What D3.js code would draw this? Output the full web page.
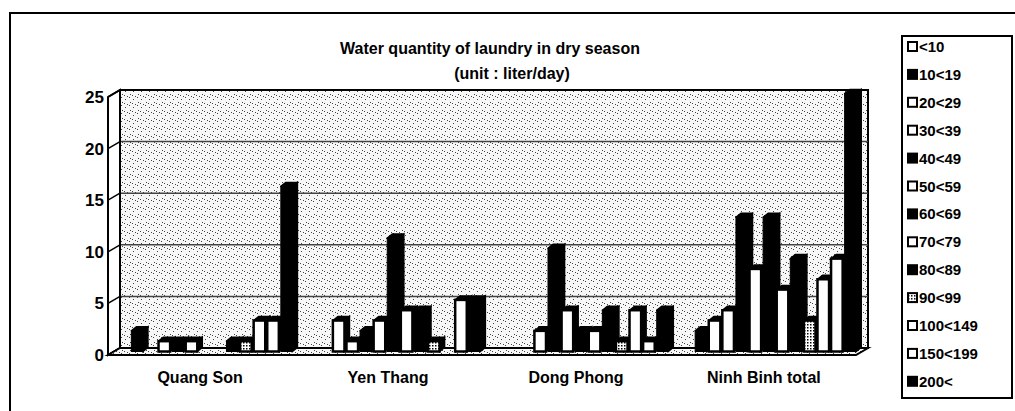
<!DOCTYPE html>
<html lang="en">
<head>
<meta charset="UTF-8">
<title>Water quantity of laundry in dry season</title>
<script src="https://cdnjs.cloudflare.com/ajax/libs/d3/7.8.5/d3.min.js"></script>
<style>
    body { margin: 0; background: #fff; }
    svg text { font-family: "Liberation Sans", Arial, sans-serif; font-weight: bold; fill: #000; }
</style>
</head>
<body>
<svg id="chart" width="1015" height="411"></svg>
<script>
// categories and series
const categories = ["Quang Son", "Yen Thang", "Dong Phong", "Ninh Binh total"];
const seriesNames = ["<10", "10<19", "20<29", "30<39", "40<49", "50<59", "60<69",
                     "70<79", "80<89", "90<99", "100<149", "150<199", "200<"];
const seriesFill = ["white", "black", "white", "white", "black", "white", "black",
                    "white", "black", "grey", "white", "white", "black"];

// values per category (liter/day classes)
const quangSon  = [0, 2, 0, 1, 1, 1, 0, 0, 1, 1, 3, 3, 16];
const yenThang  = [0, 0, 3, 1, 2, 3, 11, 4, 4, 1, 0, 5, 5];
const dongPhong = [0, 0, 0, 2, 10, 4, 2, 2, 4, 1, 4, 1, 4];
const ninhBinh  = [0, 2, 3, 4, 13, 8, 13, 6, 9, 3, 7, 9, 25];
const values = [quangSon, yenThang, dongPhong, ninhBinh];

const yTicks = [0, 5, 10, 15, 20, 25];

const svg = d3.select("#chart");

// speckled texture for wall / floor
const defs = svg.append("defs");
const speck = defs.append("pattern").attr("id", "speck")
    .attr("width", 8).attr("height", 8).attr("patternUnits", "userSpaceOnUse");
speck.append("rect").attr("width", 8).attr("height", 8).attr("fill", "#f7f7f7");
[[1, 1], [5, 3], [2, 6], [7, 0], [4, 7]].forEach(p =>
    speck.append("rect").attr("x", p[0]).attr("y", p[1]).attr("width", 1).attr("height", 1).attr("fill", "#444"));
const hatch = defs.append("pattern").attr("id", "hatch")
    .attr("width", 3).attr("height", 3).attr("patternUnits", "userSpaceOnUse");
hatch.append("rect").attr("width", 3).attr("height", 3).attr("fill", "#fff");
hatch.append("rect").attr("width", 1.5).attr("height", 1.5).attr("fill", "#000");

// outer frame
svg.append("path").attr("d", "M10,411 V13 H1015").attr("fill", "none").attr("stroke", "#000").attr("stroke-width", 2);

// 3D geometry: front axis plane and back wall offset
const wallDx = 12, wallDy = -7;
const y = d3.scaleLinear().domain([0, 25]).range([355, 97]);
const x0 = d3.scaleBand().domain(categories).range([108, 856]).paddingInner(0.06).paddingOuter(0.02);
const x1 = d3.scaleBand().domain(seriesNames).range([0, x0.bandwidth()]);

const wallL = x0.range()[0] + wallDx, wallR = x0.range()[1] + wallDx;

// back wall
svg.append("rect").attr("x", wallL).attr("y", y(25) + wallDy)
    .attr("width", wallR - wallL).attr("height", y(0) - y(25))
    .attr("fill", "url(#speck)").attr("stroke", "#000").attr("stroke-width", 2);

// gridlines on back wall
svg.selectAll(".grid").data(yTicks.slice(1, -1)).join("line")
    .attr("x1", wallL).attr("x2", wallR)
    .attr("y1", d => y(d) + wallDy).attr("y2", d => y(d) + wallDy)
    .attr("stroke", "#444").attr("stroke-width", 1.5);

// left wall
const fx = x0.range()[0];
svg.append("path")
    .attr("d", `M${fx},${y(0)} L${fx},${y(25)} L${wallL},${y(25) + wallDy} L${wallL},${y(0) + wallDy} Z`)
    .attr("fill", "#fff").attr("stroke", "#000").attr("stroke-width", 2);
svg.selectAll(".tick3d").data(yTicks).join("line")
    .attr("x1", fx).attr("y1", d => y(d)).attr("x2", wallL).attr("y2", d => y(d) + wallDy)
    .attr("stroke", "#000").attr("stroke-width", 1.5);

// floor
svg.append("path")
    .attr("d", `M${fx},${y(0)} L${wallL},${y(0) + wallDy} L${wallR},${y(0) + wallDy} L${x0.range()[1]},${y(0)} Z`)
    .attr("fill", "url(#speck)").attr("stroke", "#000").attr("stroke-width", 2);

// y tick labels
svg.selectAll(".ylab").data(yTicks).join("text")
    .attr("x", fx - 4).attr("y", d => y(d) + 6)
    .attr("text-anchor", "end").attr("font-size", 17)
    .text(d => d);

// bars (3D columns)
const barDx = 6, barDy = -3.5, depthX = 5, depthY = -4;
const bw = x1.bandwidth() - 2;
const bars = [];
values.forEach((vals, ci) => vals.forEach((v, si) => bars.push({ c: categories[ci], s: seriesNames[si], si, v })));

const barG = svg.append("g");
bars.forEach(d => {
    if (d.v <= 0) return;
    const bx = x0(d.c) + x1(d.s) + barDx;
    const top = y(d.v) + barDy, bot = y(0) + barDy;
    const kind = seriesFill[d.si];
    const frontFill = kind === "black" ? "#000" : kind === "grey" ? "url(#hatch)" : "#fff";
    const g = barG.append("g");
    // side face
    g.append("path")
        .attr("d", `M${bx + bw},${bot} L${bx + bw},${top} L${bx + bw + depthX},${top + depthY} L${bx + bw + depthX},${bot + depthY} Z`)
        .attr("fill", "#000").attr("stroke", "#000").attr("stroke-width", 1.5);
    // top face
    g.append("path")
        .attr("d", `M${bx},${top} L${bx + depthX},${top + depthY} L${bx + bw + depthX},${top + depthY} L${bx + bw},${top} Z`)
        .attr("fill", "#000").attr("stroke", "#000").attr("stroke-width", 1.5).attr("stroke-linejoin", "round");
    // front face
    g.append("rect").attr("x", bx).attr("y", top).attr("width", bw).attr("height", bot - top)
        .attr("fill", frontFill).attr("stroke", "#000").attr("stroke-width", kind === "black" ? 1 : 2.5);
});

// category labels
svg.selectAll(".clab").data(categories).join("text")
    .attr("x", d => x0(d) + x0.bandwidth() / 2)
    .attr("y", 383).attr("text-anchor", "middle").attr("font-size", 16)
    .text(d => d);

// title
svg.append("text").attr("x", 490).attr("y", 54).attr("text-anchor", "middle").attr("font-size", 16)
    .text("Water quantity of laundry in dry season");
svg.append("text").attr("x", 512).attr("y", 79).attr("text-anchor", "middle").attr("font-size", 16)
    .text("(unit : liter/day)");

// legend
const legX = 902, legY = 36;
svg.append("rect").attr("x", legX).attr("y", legY).attr("width", 110).attr("height", 362)
    .attr("fill", "#fff").attr("stroke", "#000").attr("stroke-width", 2);
const leg = svg.selectAll(".leg").data(seriesNames).join("g")
    .attr("transform", (d, i) => `translate(${legX + 6},${legY + 11 + i * 27.9})`);
leg.append("rect").attr("x", 0).attr("y", -5).attr("width", 9).attr("height", 9)
    .attr("fill", (d, i) => seriesFill[i] === "black" ? "#000" : seriesFill[i] === "grey" ? "url(#hatch)" : "#fff")
    .attr("stroke", "#000").attr("stroke-width", 2);
leg.append("text").attr("x", 11).attr("y", 5).attr("font-size", 15).text(d => d);
</script>
</body>
</html>
